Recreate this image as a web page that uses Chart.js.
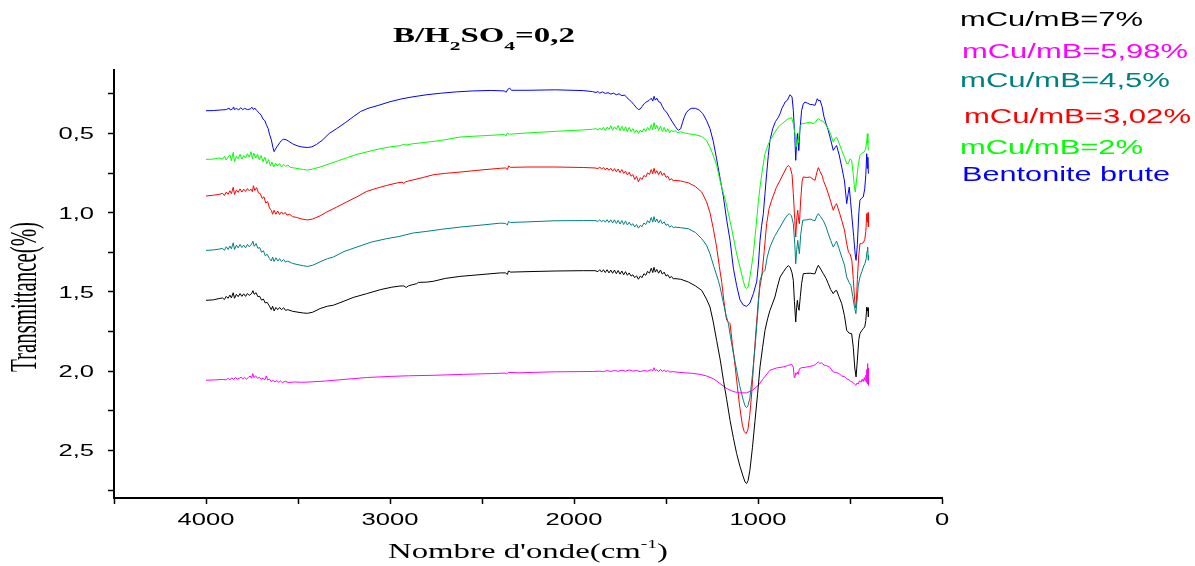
<!DOCTYPE html>
<html>
<head>
<meta charset="utf-8">
<title>B/H2SO4=0,2</title>
<script src="https://cdn.jsdelivr.net/npm/chart.js@4.4.0/dist/chart.umd.min.js"></script>
<style>
  html, body { margin: 0; padding: 0; background: #fff; }
  #wrap { width: 1195px; height: 566px; }
</style>
</head>
<body>
<div id="wrap"><canvas id="ftir" width="1195" height="566"></canvas></div>
<script>
// Spectres IR (nombre d'onde cm-1, transmittance decalee)
const seriesNames = ['mCu/mB=7%', 'mCu/mB=5,98%', 'mCu/mB=4,5%', 'mCu/mB=3,02%', 'mCu/mB=2%', 'Bentonite brute'];
const seriesColors = ['#000000', '#ff00ff', '#008080', '#ff0000', '#00ff00', '#0000ff'];

const xTickValues = [0, 500, 1000, 1500, 2000, 2500, 3000, 3500, 4000, 4500];
const xTickLabels = [[4000, '4000'], [3000, '3000'], [2000, '2000'], [1000, '1000'], [0, '0']];
const yTickValues = [0.25, 0.5, 0.75, 1.0, 1.25, 1.5, 1.75, 2.0, 2.25, 2.5, 2.75];
const yTickLabels = [[0.5, '0,5'], [1.0, '1,0'], [1.5, '1,5'], [2.0, '2,0'], [2.5, '2,5']];

const cu7 = [[4000,1.553],[3960,1.550],[3930,1.542],[3910,1.538],[3900,1.548],[3890,1.528],[3880,1.540],[3870,1.520],[3862,1.538],[3852,1.505],[3845,1.540],[3835,1.515],[3825,1.530],[3815,1.510],[3805,1.528],[3795,1.512],[3785,1.528],[3775,1.510],[3765,1.522],[3752,1.510],[3745,1.492],[3738,1.515],[3728,1.505],[3718,1.530],[3708,1.528],[3698,1.552],[3688,1.545],[3678,1.570],[3668,1.565],[3655,1.590],[3645,1.612],[3638,1.590],[3630,1.620],[3620,1.598],[3610,1.612],[3600,1.598],[3590,1.612],[3578,1.600],[3568,1.616],[3555,1.612],[3530,1.622],[3500,1.628],[3470,1.633],[3449,1.635],[3420,1.628],[3380,1.605],[3340,1.590],[3308,1.584],[3250,1.558],[3200,1.535],[3127,1.511],[3050,1.485],[2990,1.470],[2946,1.463],[2925,1.462],[2912,1.472],[2900,1.462],[2880,1.455],[2855,1.448],[2846,1.440],[2800,1.438],[2765,1.433],[2700,1.415],[2620,1.402],[2500,1.390],[2400,1.380],[2372,1.380],[2362,1.390],[2356,1.368],[2345,1.375],[2250,1.372],[2103,1.368],[1950,1.366],[1886,1.366],
  [1870,1.372],[1860,1.360],[1850,1.375],[1840,1.360],[1830,1.378],[1820,1.360],[1810,1.380],[1800,1.362],[1790,1.382],[1780,1.362],[1770,1.385],[1760,1.365],[1750,1.388],[1740,1.368],[1730,1.392],[1720,1.372],[1710,1.395],[1700,1.380],[1690,1.400],[1680,1.392],[1670,1.410],[1660,1.398],[1650,1.420],[1640,1.400],[1630,1.410],[1620,1.385],[1610,1.395],[1600,1.370],[1590,1.382],[1580,1.350],[1572,1.378],[1565,1.345],[1558,1.375],[1550,1.358],[1540,1.382],[1530,1.362],[1520,1.388],[1510,1.375],[1500,1.400],[1490,1.392],[1480,1.412],[1470,1.402],[1460,1.418],[1451,1.416],[1420,1.420],[1379,1.437],[1340,1.462],[1306,1.490],[1280,1.545],[1261,1.595],[1243,1.690],[1225,1.805],[1205,1.930],[1188,2.057],[1170,2.180],[1152,2.310],[1134,2.420],[1116,2.520],[1098,2.600],[1080,2.667],[1070,2.700],[1062,2.709],[1054,2.690],[1044,2.625],[1030,2.480],[1016,2.310],[1002,2.140],[989,1.973],[975,1.850],[962,1.742],[948,1.670],[935,1.616],[920,1.570],[908,1.532],[895,1.470],[880,1.406],[860,1.370],[845,1.345],[835,1.335],[825,1.345],[815,1.380],[808,1.427],[802,1.560],[795,1.690],[790,1.600],[786,1.553],[781,1.600],[777,1.616],[770,1.530],[763,1.448],[754,1.385],[735,1.383],[717,1.382],[700,1.385],[690,1.385],[680,1.350],[672,1.332],[660,1.355],[645,1.385],[630,1.415],[618,1.448],[605,1.485],[591,1.511],[582,1.495],[573,1.490],[560,1.530],[545,1.574],[530,1.650],[518,1.742],[505,1.760],[491,1.763],[482,1.850],[474,1.980],[467,2.036],[460,1.930],[452,1.800],[446,1.763],[437,1.745],[428,1.732],[420,1.720],[414,1.680],[409,1.595],[405,1.620],[402,1.600],[400,1.658]];

const cu598 = [[4000,2.057],[3950,2.055],[3910,2.052],[3890,2.055],[3880,2.045],[3870,2.055],[3860,2.042],[3850,2.052],[3840,2.040],[3830,2.050],[3820,2.045],[3810,2.038],[3800,2.048],[3790,2.040],[3780,2.050],[3770,2.040],[3760,2.030],[3752,2.045],[3746,2.015],[3740,2.040],[3730,2.030],[3720,2.045],[3710,2.038],[3700,2.050],[3690,2.045],[3680,2.055],[3672,2.030],[3665,2.055],[3655,2.050],[3645,2.065],[3635,2.058],[3625,2.068],[3615,2.060],[3605,2.070],[3595,2.062],[3585,2.072],[3570,2.064],[3550,2.072],[3520,2.068],[3480,2.070],[3435,2.068],[3350,2.062],[3250,2.052],[3127,2.040],[3000,2.033],[2900,2.029],[2765,2.026],[2600,2.020],[2450,2.015],[2375,2.012],[2366,2.018],[2358,2.008],[2300,2.010],[2100,2.004],[1900,2.002],[1859,2.000],
  [1840,2.003],[1820,1.996],[1800,2.002],[1780,1.995],[1760,2.001],[1740,1.994],[1720,2.000],[1700,1.992],[1680,2.000],[1660,1.995],[1640,2.003],[1620,1.996],[1600,2.000],[1580,1.990],[1572,1.998],[1565,1.978],[1558,1.998],[1550,1.990],[1540,2.003],[1530,1.988],[1520,2.002],[1510,1.993],[1500,2.003],[1490,1.996],[1480,2.005],[1460,2.003],[1440,2.006],[1400,2.010],[1360,2.013],[1315,2.020],[1280,2.030],[1243,2.047],[1210,2.075],[1170,2.110],[1130,2.130],[1100,2.136],[1062,2.137],[1030,2.120],[998,2.089],[970,2.045],[935,1.994],[900,1.980],[862,1.973],[840,1.965],[817,1.957],[808,1.975],[803,2.040],[799,2.036],[795,2.010],[790,2.020],[785,2.005],[781,2.020],[775,1.985],[763,1.978],[740,1.975],[720,1.970],[699,1.965],[690,1.960],[680,1.948],[672,1.942],[665,1.950],[655,1.948],[640,1.962],[627,1.965],[610,1.975],[591,2.005],[575,2.008],[560,2.015],[545,2.030],[530,2.035],[518,2.048],[505,2.055],[495,2.065],[485,2.070],[475,2.082],[468,2.089],[462,2.075],[455,2.080],[448,2.060],[440,2.070],[434,2.050],[428,2.065],[422,2.040],[418,2.060],[414,2.025],[411,2.070],[409,1.990],[407,2.060],[405,1.952],[403,2.080],[401,1.980],[400,2.089]];

const cu45 = [[4000,1.238],[3960,1.235],[3930,1.230],[3910,1.225],[3900,1.238],[3890,1.215],[3880,1.232],[3870,1.210],[3862,1.228],[3852,1.190],[3845,1.232],[3835,1.205],[3825,1.222],[3815,1.200],[3805,1.220],[3795,1.205],[3785,1.222],[3775,1.200],[3765,1.215],[3752,1.198],[3745,1.180],[3738,1.212],[3728,1.195],[3718,1.225],[3708,1.220],[3698,1.250],[3688,1.240],[3678,1.272],[3668,1.262],[3655,1.290],[3645,1.305],[3638,1.280],[3630,1.308],[3620,1.285],[3610,1.305],[3600,1.290],[3590,1.308],[3578,1.295],[3568,1.312],[3555,1.305],[3530,1.320],[3500,1.328],[3470,1.335],[3449,1.339],[3420,1.332],[3380,1.310],[3340,1.290],[3308,1.280],[3250,1.245],[3200,1.225],[3163,1.210],[3100,1.185],[3018,1.164],[2950,1.150],[2873,1.128],[2800,1.118],[2720,1.105],[2620,1.091],[2500,1.078],[2400,1.066],[2372,1.068],[2362,1.078],[2356,1.056],[2345,1.062],[2250,1.058],[2103,1.051],[1950,1.050],[1886,1.050],
  [1870,1.055],[1860,1.045],[1850,1.058],[1840,1.046],[1830,1.060],[1820,1.044],[1810,1.062],[1800,1.045],[1790,1.065],[1780,1.045],[1770,1.068],[1760,1.048],[1750,1.072],[1740,1.050],[1730,1.075],[1720,1.052],[1710,1.078],[1700,1.060],[1690,1.080],[1680,1.070],[1670,1.090],[1660,1.075],[1650,1.098],[1640,1.080],[1630,1.088],[1620,1.065],[1610,1.075],[1600,1.050],[1590,1.065],[1580,1.030],[1572,1.060],[1565,1.025],[1558,1.058],[1550,1.040],[1540,1.065],[1530,1.045],[1520,1.070],[1510,1.058],[1500,1.080],[1490,1.072],[1480,1.092],[1470,1.082],[1460,1.095],[1451,1.091],[1420,1.095],[1379,1.101],[1340,1.125],[1306,1.164],[1280,1.205],[1261,1.259],[1240,1.340],[1216,1.427],[1206,1.470],[1190,1.560],[1175,1.640],[1161,1.700],[1150,1.780],[1135,1.880],[1116,1.994],[1100,2.090],[1080,2.183],[1070,2.220],[1062,2.230],[1054,2.215],[1044,2.170],[1030,2.020],[1016,1.847],[1002,1.640],[989,1.427],[975,1.380],[962,1.364],[950,1.280],[935,1.217],[910,1.150],[880,1.091],[855,1.040],[840,1.015],[830,1.006],[818,1.020],[808,1.070],[800,1.200],[795,1.322],[789,1.230],[784,1.175],[779,1.230],[775,1.259],[768,1.140],[757,1.048],[735,1.045],[717,1.040],[700,1.048],[690,1.050],[680,1.020],[672,1.006],[660,1.025],[645,1.050],[630,1.090],[618,1.133],[605,1.175],[591,1.217],[580,1.195],[573,1.180],[560,1.225],[545,1.280],[530,1.330],[518,1.406],[505,1.440],[495,1.460],[485,1.530],[475,1.600],[468,1.637],[462,1.560],[455,1.460],[446,1.406],[435,1.370],[425,1.335],[419,1.322],[412,1.290],[407,1.240],[404,1.217],[402,1.270],[400,1.300]];

const cu302 = [[4000,0.895],[3960,0.890],[3930,0.885],[3910,0.878],[3900,0.892],[3890,0.870],[3880,0.885],[3870,0.862],[3862,0.880],[3852,0.840],[3845,0.885],[3835,0.858],[3825,0.872],[3815,0.850],[3805,0.870],[3795,0.852],[3785,0.866],[3775,0.848],[3765,0.862],[3755,0.852],[3748,0.868],[3742,0.830],[3735,0.860],[3725,0.842],[3715,0.875],[3705,0.880],[3695,0.910],[3685,0.900],[3675,0.940],[3665,0.930],[3655,0.970],[3645,0.985],[3638,1.010],[3630,0.985],[3620,1.010],[3610,0.990],[3600,1.012],[3590,0.995],[3580,1.010],[3570,0.998],[3560,1.015],[3545,1.010],[3530,1.025],[3507,1.030],[3480,1.040],[3449,1.046],[3420,1.040],[3380,1.020],[3344,0.996],[3290,0.965],[3236,0.933],[3180,0.900],[3127,0.866],[3070,0.845],[3018,0.828],[2960,0.812],[2935,0.808],[2925,0.815],[2915,0.805],[2880,0.795],[2820,0.778],[2765,0.761],[2700,0.752],[2620,0.744],[2500,0.730],[2400,0.720],[2372,0.718],[2362,0.728],[2355,0.705],[2345,0.714],[2250,0.712],[2103,0.712],[1950,0.715],[1886,0.718],
  [1870,0.722],[1860,0.712],[1850,0.725],[1840,0.715],[1830,0.730],[1820,0.718],[1810,0.733],[1800,0.720],[1790,0.738],[1780,0.722],[1770,0.742],[1760,0.725],[1750,0.748],[1740,0.728],[1730,0.752],[1720,0.738],[1710,0.762],[1700,0.745],[1690,0.770],[1680,0.760],[1670,0.790],[1660,0.772],[1650,0.805],[1640,0.780],[1630,0.790],[1620,0.765],[1610,0.775],[1600,0.748],[1590,0.760],[1580,0.728],[1572,0.755],[1565,0.720],[1558,0.752],[1550,0.735],[1540,0.760],[1530,0.738],[1520,0.765],[1510,0.750],[1500,0.778],[1490,0.770],[1480,0.795],[1470,0.785],[1460,0.800],[1451,0.796],[1420,0.800],[1400,0.806],[1379,0.811],[1340,0.835],[1306,0.870],[1280,0.930],[1261,1.000],[1243,1.100],[1225,1.217],[1210,1.340],[1197,1.440],[1185,1.560],[1176,1.640],[1170,1.679],[1160,1.690],[1152,1.700],[1140,1.820],[1128,1.930],[1116,2.057],[1100,2.220],[1085,2.340],[1075,2.380],[1065,2.394],[1055,2.370],[1045,2.280],[1035,2.150],[1025,1.973],[1012,1.760],[998,1.553],[990,1.470],[980,1.406],[966,1.240],[953,1.070],[940,0.975],[926,0.922],[900,0.840],[880,0.796],[860,0.750],[845,0.715],[835,0.702],[825,0.715],[815,0.760],[808,0.880],[800,1.050],[795,1.154],[789,1.030],[784,0.985],[779,1.050],[775,1.070],[768,0.920],[760,0.800],[754,0.775],[735,0.778],[717,0.775],[700,0.790],[690,0.796],[680,0.745],[672,0.716],[663,0.740],[650,0.770],[645,0.796],[630,0.840],[618,0.880],[605,0.930],[591,0.985],[580,0.955],[573,0.943],[560,0.990],[545,1.048],[530,1.110],[518,1.196],[508,1.250],[500,1.259],[490,1.300],[482,1.420],[475,1.550],[470,1.600],[466,1.580],[460,1.420],[453,1.280],[446,1.196],[437,1.195],[428,1.190],[420,1.170],[414,1.120],[409,1.006],[405,1.060],[402,1.000],[400,1.090]];

const cu2 = [[4000,0.664],[3960,0.662],[3930,0.655],[3910,0.662],[3900,0.645],[3890,0.668],[3880,0.650],[3870,0.635],[3862,0.672],[3852,0.620],[3845,0.680],[3835,0.645],[3825,0.660],[3815,0.632],[3805,0.662],[3795,0.640],[3785,0.655],[3775,0.628],[3765,0.650],[3755,0.615],[3748,0.660],[3740,0.625],[3730,0.655],[3720,0.630],[3710,0.668],[3700,0.640],[3690,0.678],[3680,0.650],[3670,0.690],[3660,0.665],[3650,0.705],[3642,0.680],[3632,0.712],[3622,0.688],[3612,0.705],[3600,0.690],[3590,0.712],[3578,0.695],[3568,0.708],[3555,0.700],[3540,0.715],[3520,0.718],[3500,0.722],[3470,0.728],[3449,0.731],[3420,0.725],[3380,0.712],[3330,0.692],[3280,0.672],[3230,0.652],[3180,0.632],[3120,0.615],[3060,0.598],[3000,0.585],[2950,0.578],[2925,0.570],[2910,0.573],[2880,0.566],[2820,0.558],[2760,0.550],[2700,0.540],[2620,0.523],[2550,0.518],[2450,0.512],[2380,0.507],[2370,0.516],[2362,0.498],[2352,0.505],[2250,0.497],[2100,0.487],[1950,0.478],[1900,0.474],
  [1880,0.470],[1870,0.480],[1860,0.466],[1850,0.478],[1840,0.462],[1830,0.482],[1820,0.460],[1810,0.476],[1800,0.452],[1790,0.480],[1780,0.458],[1770,0.475],[1760,0.450],[1750,0.483],[1740,0.455],[1730,0.485],[1720,0.458],[1710,0.490],[1700,0.462],[1690,0.488],[1680,0.470],[1670,0.495],[1660,0.478],[1650,0.500],[1640,0.480],[1630,0.492],[1620,0.470],[1610,0.488],[1600,0.462],[1590,0.480],[1580,0.445],[1572,0.478],[1565,0.432],[1558,0.472],[1550,0.448],[1540,0.482],[1530,0.455],[1520,0.488],[1510,0.462],[1500,0.490],[1490,0.470],[1480,0.496],[1470,0.478],[1460,0.492],[1450,0.480],[1440,0.495],[1420,0.490],[1400,0.497],[1379,0.502],[1340,0.508],[1306,0.520],[1280,0.545],[1260,0.590],[1243,0.640],[1225,0.700],[1210,0.780],[1195,0.850],[1175,0.930],[1161,1.006],[1145,1.090],[1134,1.154],[1116,1.260],[1098,1.343],[1080,1.430],[1070,1.470],[1062,1.479],[1054,1.470],[1043,1.400],[1025,1.259],[1010,1.080],[998,0.930],[989,0.838],[975,0.720],[962,0.628],[948,0.580],[935,0.544],[912,0.500],[890,0.460],[870,0.440],[844,0.414],[830,0.405],[817,0.401],[808,0.440],[799,0.502],[792,0.586],[786,0.540],[781,0.560],[777,0.500],[770,0.455],[763,0.439],[740,0.435],[717,0.430],[700,0.438],[690,0.432],[680,0.415],[672,0.407],[660,0.418],[645,0.425],[632,0.445],[618,0.470],[605,0.505],[591,0.555],[580,0.530],[573,0.523],[560,0.560],[545,0.607],[530,0.650],[518,0.690],[509,0.691],[500,0.660],[491,0.670],[482,0.760],[475,0.850],[471,0.870],[465,0.800],[455,0.700],[446,0.639],[435,0.625],[424,0.618],[415,0.600],[408,0.540],[406,0.502],[403,0.560],[400,0.607]];

const bentonite = [[4000,0.357],[3960,0.356],[3920,0.352],[3890,0.350],[3875,0.340],[3868,0.352],[3855,0.345],[3850,0.333],[3845,0.350],[3835,0.342],[3822,0.352],[3812,0.338],[3800,0.350],[3790,0.342],[3775,0.350],[3760,0.346],[3750,0.335],[3742,0.350],[3735,0.340],[3725,0.355],[3712,0.370],[3700,0.385],[3690,0.410],[3680,0.420],[3672,0.445],[3662,0.470],[3655,0.505],[3645,0.540],[3636,0.590],[3630,0.615],[3622,0.598],[3612,0.580],[3600,0.560],[3590,0.545],[3578,0.536],[3565,0.540],[3550,0.550],[3530,0.565],[3505,0.578],[3480,0.585],[3450,0.589],[3425,0.585],[3400,0.570],[3370,0.545],[3330,0.500],[3290,0.470],[3240,0.430],[3200,0.395],[3160,0.362],[3120,0.342],[3060,0.322],[3000,0.300],[2940,0.283],[2880,0.270],[2800,0.256],[2720,0.246],[2640,0.238],[2550,0.232],[2450,0.229],[2380,0.232],[2368,0.240],[2360,0.222],[2350,0.214],[2340,0.228],[2250,0.228],[2100,0.225],[1950,0.230],[1900,0.236],
  [1880,0.242],[1870,0.236],[1860,0.246],[1845,0.238],[1830,0.248],[1815,0.243],[1800,0.252],[1785,0.246],[1770,0.256],[1755,0.250],[1740,0.262],[1725,0.258],[1712,0.275],[1700,0.288],[1688,0.300],[1675,0.318],[1662,0.336],[1650,0.350],[1640,0.346],[1630,0.330],[1618,0.312],[1605,0.300],[1592,0.292],[1580,0.278],[1572,0.296],[1565,0.266],[1558,0.290],[1550,0.278],[1540,0.300],[1530,0.305],[1520,0.330],[1510,0.350],[1495,0.370],[1480,0.400],[1465,0.428],[1450,0.455],[1440,0.472],[1432,0.480],[1420,0.470],[1410,0.430],[1400,0.395],[1390,0.370],[1375,0.350],[1360,0.341],[1340,0.342],[1320,0.352],[1300,0.375],[1279,0.420],[1261,0.470],[1243,0.550],[1225,0.660],[1205,0.790],[1188,0.900],[1170,1.048],[1152,1.175],[1134,1.350],[1116,1.460],[1098,1.550],[1080,1.583],[1062,1.591],[1044,1.570],[1025,1.510],[1007,1.435],[998,1.330],[989,1.175],[980,1.080],[971,1.006],[962,0.880],[953,0.754],[944,0.640],[935,0.544],[920,0.470],[905,0.425],[890,0.400],[878,0.370],[871,0.344],[860,0.320],[853,0.302],[840,0.290],[826,0.256],[815,0.270],[808,0.355],[800,0.520],[795,0.670],[790,0.560],[786,0.500],[782,0.560],[779,0.607],[772,0.480],[763,0.355],[754,0.315],[745,0.302],[730,0.310],[717,0.317],[705,0.318],[690,0.323],[683,0.300],[678,0.281],[670,0.295],[663,0.290],[652,0.330],[641,0.397],[630,0.440],[618,0.481],[605,0.540],[591,0.607],[582,0.590],[573,0.576],[560,0.630],[545,0.712],[530,0.800],[518,0.943],[510,0.880],[504,0.838],[497,0.930],[491,1.006],[480,1.150],[472,1.260],[467,1.301],[460,1.200],[452,1.000],[446,0.922],[438,0.910],[428,0.901],[420,0.850],[414,0.760],[409,0.628],[406,0.720],[403,0.650],[400,0.754]];

const seriesData = [cu7, cu598, cu45, cu302, cu2, bentonite];

// texte etire horizontalement comme sur la figure d'origine
function fitText(ctx, parts, left, baseline, width) {
  let total = 0;
  parts.forEach(p => { ctx.font = p.font; p.w = ctx.measureText(p.t).width; total += p.w; });
  ctx.save();
  ctx.translate(left, baseline);
  ctx.scale(width / total, 1);
  let x = 0;
  parts.forEach(p => {
    ctx.font = p.font;
    ctx.fillText(p.t, x, p.dy || 0);
    x += p.w;
  });
  ctx.restore();
}

const textPlugin = {
  id: 'textPlugin',
  afterDraw(chart) {
    const ctx = chart.ctx;
    const xs = chart.scales.x;
    const ys = chart.scales.y;
    const sx = 1.55;
    ctx.save();
    ctx.fillStyle = '#000';
    ctx.textBaseline = 'alphabetic';

    // tick labels
    ctx.font = '16.5px "Liberation Sans", Arial, sans-serif';
    xTickLabels.forEach(([v, lab]) => {
      ctx.save();
      ctx.translate(xs.getPixelForValue(v), 525);
      ctx.scale(sx, 1);
      ctx.textAlign = 'center';
      ctx.fillText(lab, 0, 0);
      ctx.restore();
    });
    yTickLabels.forEach(([v, lab]) => {
      ctx.save();
      ctx.translate(94, ys.getPixelForValue(v) + 6);
      ctx.scale(sx, 1);
      ctx.textAlign = 'right';
      ctx.fillText(lab, 0, 0);
      ctx.restore();
    });
    ctx.textAlign = 'left';

    // title
    const tb = 'bold 20px "Liberation Serif", "Times New Roman", serif';
    const ts = 'bold 13px "Liberation Serif", "Times New Roman", serif';
    fitText(ctx, [{t: 'B/H', font: tb}, {t: '2', font: ts, dy: 8}, {t: 'SO', font: tb}, {t: '4', font: ts, dy: 8}, {t: '=0,2', font: tb}], 393, 42, 182);

    // x axis title
    const xf = '20px "Liberation Serif", "Times New Roman", serif';
    fitText(ctx, [{t: "Nombre d'onde(cm", font: xf}, {t: '-1', font: '12px "Liberation Serif", serif', dy: -10}, {t: ')', font: xf}], 388, 558, 280);

    // y axis title
    ctx.font = '21px "Liberation Serif", "Times New Roman", serif';
    const yt = 'Transmittance(%)';
    const fs = 21 * 150 / ctx.measureText(yt).width;
    ctx.font = fs + 'px "Liberation Serif", "Times New Roman", serif';
    ctx.save();
    ctx.translate(36, 297);
    ctx.scale(24.5 / (0.66 * fs), 1);
    ctx.rotate(-Math.PI / 2);
    ctx.textAlign = 'center';
    ctx.fillText(yt, 0, 0);
    ctx.restore();

    // legend
    const slots = [[960, 26, 183], [962, 58, 226], [960, 87, 210], [964, 123, 227], [960, 154, 183], [962, 180.5, 208]];
    const lf = '20px "Liberation Sans", Arial, sans-serif';
    seriesNames.forEach((name, i) => {
      ctx.fillStyle = seriesColors[i];
      fitText(ctx, [{t: name, font: lf}], slots[i][0], slots[i][1], slots[i][2]);
    });
    ctx.restore();
  }
};

new Chart(document.getElementById('ftir'), {
  type: 'line',
  data: {
    datasets: seriesData.map((d, i) => ({
      label: seriesNames[i],
      data: d.map(p => ({x: p[0], y: p[1]})),
      borderColor: seriesColors[i],
      borderWidth: 1,
      pointRadius: 0,
      tension: 0,
      fill: false
    }))
  },
  options: {
    responsive: false,
    animation: false,
    devicePixelRatio: 1,
    layout: { padding: { left: 108, right: 253, top: 70, bottom: 62 } },
    plugins: { legend: { display: false }, tooltip: { enabled: false } },
    scales: {
      x: {
        type: 'linear', min: 0, max: 4500, reverse: true,
        afterBuildTicks: s => { s.ticks = xTickValues.map(v => ({value: v})); },
        ticks: { display: false },
        grid: { drawOnChartArea: false, drawTicks: true, tickLength: 6, tickWidth: 1.5, tickColor: '#000' },
        border: { display: true, color: '#000', width: 2 }
      },
      y: {
        type: 'linear', min: 0.1, max: 2.8, reverse: true,
        afterBuildTicks: s => { s.ticks = yTickValues.map(v => ({value: v})); },
        ticks: { display: false },
        grid: { drawOnChartArea: false, drawTicks: true, tickLength: 6, tickWidth: 1.5, tickColor: '#000' },
        border: { display: true, color: '#000', width: 2 }
      }
    }
  },
  plugins: [textPlugin]
});
</script>
</body>
</html>
